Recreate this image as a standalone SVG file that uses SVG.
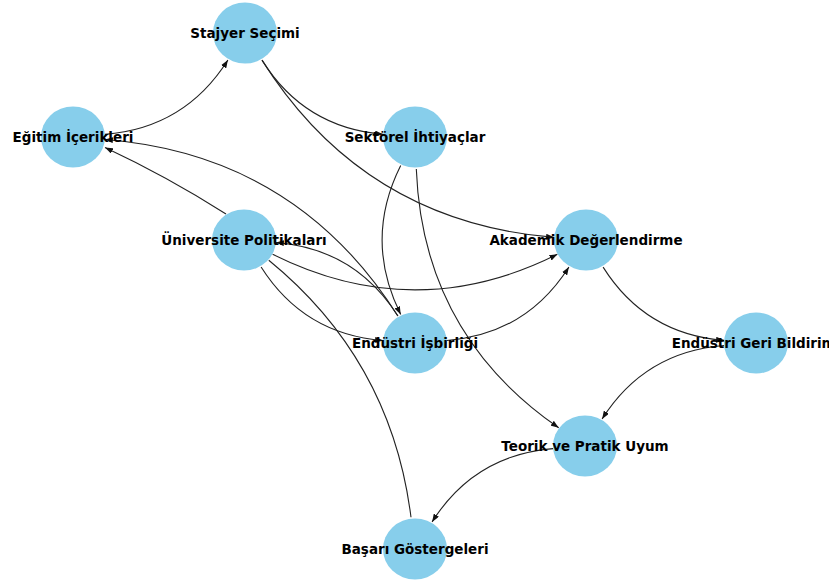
<svg xmlns="http://www.w3.org/2000/svg" width="829" height="583" viewBox="0 0 829 583">
<defs>
<marker id="ah" markerWidth="8" markerHeight="6" refX="8" refY="3" orient="auto" markerUnits="userSpaceOnUse"><path d="M0,0 L8,3 L0,6 z" fill="#111"/></marker>
</defs>
<style>
.e{fill:none;stroke:#222;stroke-width:1.1;marker-end:url(#ah)}
.e.plain{marker-end:none}
.n ellipse{fill:#87CEEB}
.n text{font-family:"DejaVu Sans",sans-serif;font-weight:bold;font-size:13.5px;text-anchor:middle;fill:#000}
</style>
<rect width="829" height="583" fill="#fff"/>
<g id="edges">
<path class="e" d="M104.9,134.4 Q185,128 227.9,60"/>
<path class="e" d="M262,60.1 Q304,127.5 383.1,134.3"/>
<path class="e" d="M262,60.1 Q363.75,221.75 554.1,237.4"/>
<path class="e" d="M226,214 Q168,177 105,147.5"/>
<path class="e" d="M397.9,316 Q295.5,154.5 104.9,139.5"/>
<path class="e" d="M400.7,165.6 Q363.5,240 400.7,314.4"/>
<path class="e" d="M397.9,316 Q355.25,248.75 275.9,242.5"/>
<path class="e" d="M261.1,267 Q303.75,334.25 383.1,340.5"/>
<path class="e" d="M272.6,254.3 Q415,325.5 557.4,254.3"/>
<path class="e plain" d="M411,517.3 Q391.3,360.3 268.8,260.3"/>
<path class="e" d="M416.3,169 Q422.75,334 558.7,427.8"/>
<path class="e" d="M446.9,340.5 Q526.25,334.25 568.9,267"/>
<path class="e" d="M603.1,267.1 Q645.25,334 724.1,340.4"/>
<path class="e" d="M724.1,345.5 Q644.75,351.75 602.1,419"/>
<path class="e" d="M553.1,448.6 Q474.25,455 432.1,521.9"/>
</g>
<g id="stajyer" class="n"><ellipse cx="245" cy="33" rx="32" ry="30.5"/><text x="245" y="37.5">Stajyer Seçimi</text></g>
<g id="egitim" class="n"><ellipse cx="73" cy="137" rx="32" ry="30.5"/><text x="73" y="141.5">Eğitim İçerikleri</text></g>
<g id="sektorel" class="n"><ellipse cx="415" cy="137" rx="32" ry="30.5"/><text x="415" y="141.5">Sektörel İhtiyaçlar</text></g>
<g id="universite" class="n"><ellipse cx="244" cy="240" rx="32" ry="30.5"/><text x="244" y="244.5">Üniversite Politikaları</text></g>
<g id="akademik" class="n"><ellipse cx="586" cy="240" rx="32" ry="30.5"/><text x="586" y="244.5">Akademik Değerlendirme</text></g>
<g id="isbirligi" class="n"><ellipse cx="415" cy="343" rx="32" ry="30.5"/><text x="415" y="347.5">Endüstri İşbirliği</text></g>
<g id="geribildirim" class="n"><ellipse cx="756" cy="343" rx="32" ry="30.5"/><text x="756" y="347.5">Endüstri Geri Bildirimi</text></g>
<g id="teorik" class="n"><ellipse cx="585" cy="446" rx="32" ry="30.5"/><text x="585" y="450.5">Teorik ve Pratik Uyum</text></g>
<g id="basari" class="n"><ellipse cx="415" cy="549" rx="32" ry="30.5"/><text x="415" y="553.5">Başarı Göstergeleri</text></g>
</svg>
